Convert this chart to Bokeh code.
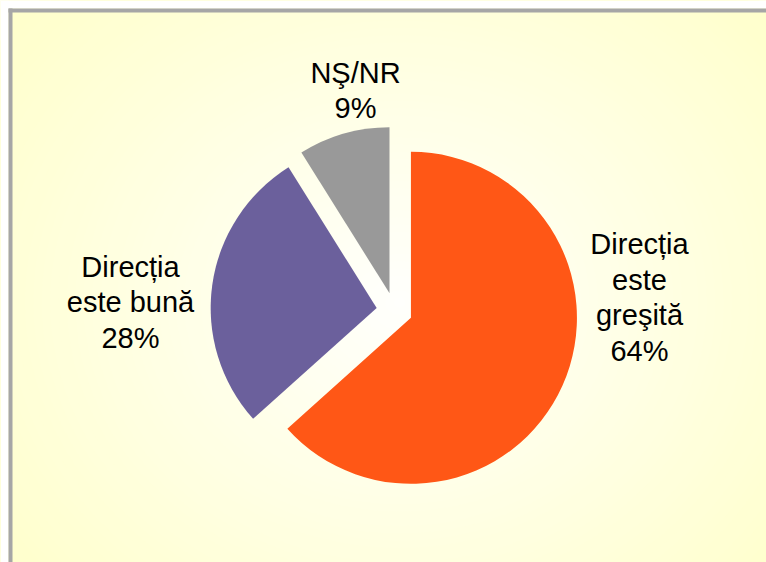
import numpy as np
from bokeh.plotting import figure
from bokeh.models import Range1d, ColumnDataSource
from bokeh.core.properties import value
from bokeh.embed import file_html
from bokeh.resources import INLINE

# ---- data ----
categories = ["Direcția\neste\ngreşită", "Direcția\neste bună", "NŞ/NR"]
percent = [64, 28, 9]
colors = ["#FF5716", "#6B609C", "#999999"]

# ---- layout / style ----
W, H = 766, 562
cx, cy = 394, 252        # pie centre (data units = px)
radius = 166
explode = 18
label_pos = [(639, 265), (130, 260), (355, 472)]   # centre of each label block
font = "Liberation Sans"
fsize = "29px"

p = figure(width=W, height=H, output_backend="svg", toolbar_location=None,
           x_range=Range1d(0, W), y_range=Range1d(0, H), min_border=0)
p.axis.visible = False
p.grid.visible = False
p.outline_line_color = None
p.background_fill_color = "#FFFFCC"
p.border_fill_color = "#FFFFFF"

# radial background gradient (white centre -> pale yellow)
n = 60
for i in range(n):
    t = i / (n - 1)             # 0 outer -> 1 inner
    rr = 430 * (1 - t) + 5
    b = int(round(204 + (252 - 204) * t))
    p.ellipse(x=cx + 5, y=cy + 8, width=2 * rr * 1.15, height=2 * rr,
              fill_color="#FFFF%02X" % b, line_color=None)

# white page margin, grey frame on left and top
p.quad(left=0, right=8, bottom=0, top=H, fill_color="#FFFFFF", line_color=None)
p.quad(left=0, right=W, bottom=H - 8, top=H, fill_color="#FFFFFF", line_color=None)
p.quad(left=8, right=12, bottom=0, top=H - 8, fill_color="#A6A6A6", line_color=None)
p.quad(left=8, right=W, bottom=H - 12, top=H - 8, fill_color="#A6A6A6", line_color=None)

# pie wedges, clockwise from 12 o'clock
total = sum(percent)
starts, ends, xs, ys = [], [], [], []
a = np.pi / 2
for v in percent:
    sweep = 2 * np.pi * v / total
    e = a
    s = a - sweep
    mid = (s + e) / 2
    starts.append(s)
    ends.append(e)
    xs.append(cx + explode * np.cos(mid))
    ys.append(cy + explode * np.sin(mid))
    a = s

src = ColumnDataSource(dict(x=xs, y=ys, start=starts, end=ends, color=colors))
p.wedge(x="x", y="y", radius=radius, start_angle="start", end_angle="end",
        fill_color="color", line_color=None, source=src)

labels = [f"{c}\n{v}%" for c, v in zip(categories, percent)]
lsrc = ColumnDataSource(dict(x=[q[0] for q in label_pos], y=[q[1] for q in label_pos],
                             text=labels))
p.text(x="x", y="y", text="text", source=lsrc, text_font=value(font),
       text_font_size=fsize, text_align="center", text_baseline="middle",
       text_color="#000000", text_line_height=1.12)

open("out.html", "w").write(file_html(p, INLINE))
